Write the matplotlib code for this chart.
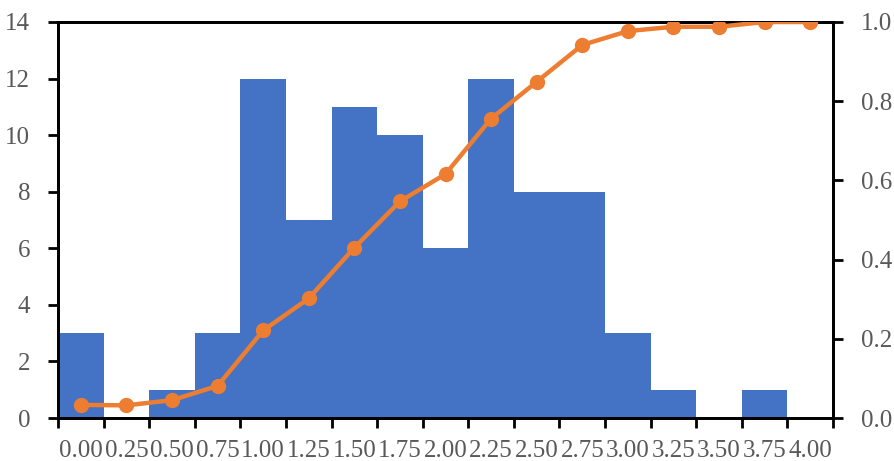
import numpy as np
import matplotlib.pyplot as plt
from matplotlib.ticker import FixedLocator, FormatStrFormatter

# bin labels (left edge of each 0.25-wide bin)
bin_labels = ["0.00", "0.25", "0.50", "0.75", "1.00", "1.25", "1.50", "1.75",
              "2.00", "2.25", "2.50", "2.75", "3.00", "3.25", "3.50", "3.75", "4.00"]
counts = [3, 0, 1, 3, 12, 7, 11, 10, 6, 12, 8, 8, 3, 1, 0, 1, 0]
cum_share = [0.033, 0.032, 0.045, 0.081, 0.221, 0.302, 0.430, 0.547,
             0.616, 0.756, 0.849, 0.942, 0.977, 0.988, 0.988, 1.0, 1.0]

plt.rcParams['font.family'] = ['Liberation Serif', 'DejaVu Serif']
txt_color = "#595959"
fsize = 18

fig = plt.figure(figsize=(8.94, 4.61), dpi=100)
ax = fig.add_axes([58 / 894, 1 - 418 / 461, (833 - 58) / 894, (418 - 22) / 461])

n = len(counts)
centers = np.arange(n) + 0.5
ax.bar(centers, counts, width=1.0, color="#4472C4", edgecolor="none", zorder=1)
ax.set_xlim(0, n)
ax.set_ylim(0, 14)
ax.set_yticks(range(0, 15, 2))

# ticks at bin edges, labels in bin centers
ax.xaxis.set_major_locator(FixedLocator(np.arange(n + 1)))
ax.xaxis.set_minor_locator(FixedLocator(centers))
ax.set_xticklabels([])
ax.set_xticklabels(bin_labels, minor=True)
ax.tick_params(axis="both", which="major", length=7, width=2)
ax.tick_params(axis="y", pad=13, labelsize=fsize, labelcolor=txt_color)
ax.tick_params(axis="x", which="minor", length=0, pad=16,
               labelsize=fsize, labelcolor=txt_color)

ax2 = ax.twinx()
ax2.plot(centers, cum_share, color="#ED7D31", linewidth=3.2, marker="o",
         markersize=10, zorder=3)
ax2.set_ylim(0, 1)
ax2.set_yticks(np.arange(0, 1.01, 0.2))
ax2.yaxis.set_major_formatter(FormatStrFormatter("%.1f"))
ax2.tick_params(axis="y", length=7, width=2, pad=13,
                labelsize=fsize, labelcolor=txt_color)

for a in (ax, ax2):
    for s in a.spines.values():
        s.set_linewidth(2)

fig.savefig("out.png", dpi=100)
